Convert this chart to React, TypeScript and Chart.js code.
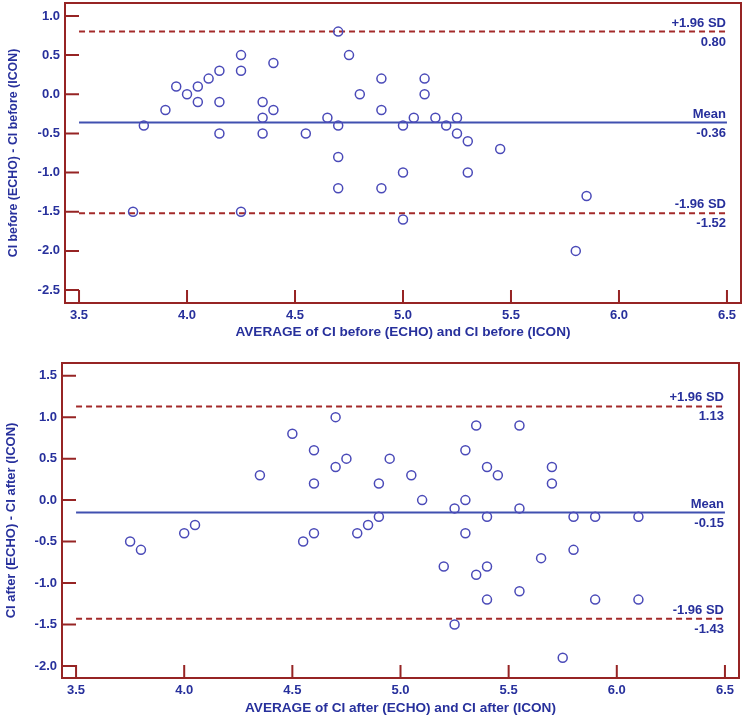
import React, { useEffect, useRef } from 'react';
import { Chart, registerables } from 'chart.js';

Chart.register(...registerables);

// ---------- data ----------
const xTickValues = [3.5, 4.0, 4.5, 5.0, 5.5, 6.0, 6.5];
const topYTickValues = [1.0, 0.5, 0.0, -0.5, -1.0, -1.5, -2.0, -2.5];
const bottomYTickValues = [1.5, 1.0, 0.5, 0.0, -0.5, -1.0, -1.5, -2.0];

const limitNames = ['+1.96 SD', 'Mean', '-1.96 SD'];
const topLimits = [0.8, -0.36, -1.52];
const bottomLimits = [1.13, -0.15, -1.43];

const topAvg = [
  4.7, 4.75, 4.25, 4.4, 4.15, 4.25, 4.1, 3.95, 4.05, 4.0, 4.8, 4.05, 4.15, 4.35, 3.9,
  4.4, 4.35, 4.65, 3.8, 4.7, 4.15, 4.35, 4.55, 4.7, 4.7, 3.75, 4.25, 4.9, 5.1, 5.1,
  4.9, 5.05, 5.15, 5.25, 5.0, 5.2, 5.25, 5.3, 5.45, 5.0, 5.3, 4.9, 5.85, 5.0, 5.8,
];
const topDiff = [
  0.8, 0.5, 0.5, 0.4, 0.3, 0.3, 0.2, 0.1, 0.1, 0.0, 0.0, -0.1, -0.1, -0.1, -0.2,
  -0.2, -0.3, -0.3, -0.4, -0.4, -0.5, -0.5, -0.5, -0.8, -1.2, -1.5, -1.5, 0.2, 0.2, 0.0,
  -0.2, -0.3, -0.3, -0.3, -0.4, -0.4, -0.5, -0.6, -0.7, -1.0, -1.0, -1.2, -1.3, -1.6, -2.0,
];

const bottomAvg = [
  4.7, 4.5, 4.6, 4.75, 4.7, 4.35, 4.6, 4.05, 4.0, 4.6, 4.8, 4.85, 3.75, 4.55, 3.8,
  4.9, 4.9, 4.95, 5.05, 5.1, 5.2, 5.25, 5.25, 5.3, 5.3, 5.3, 5.35, 5.35, 5.4, 5.45,
  5.4, 5.4, 5.4, 5.55, 5.55, 5.55, 5.65, 5.7, 5.7, 5.75, 5.8, 5.8, 5.9, 5.9, 6.1, 6.1,
];
const bottomDiff = [
  1.0, 0.8, 0.6, 0.5, 0.4, 0.3, 0.2, -0.3, -0.4, -0.4, -0.4, -0.3, -0.5, -0.5, -0.6,
  0.2, -0.2, 0.5, 0.3, 0.0, -0.8, -0.1, -1.5, 0.6, 0.0, -0.4, 0.9, -0.9, 0.4, 0.3,
  -0.2, -0.8, -1.2, 0.9, -0.1, -1.1, -0.7, 0.4, 0.2, -1.9, -0.2, -0.6, -0.2, -1.2, -0.2, -1.2,
];

// ---------- styles ----------
const NAVY = '#27309c';
const FRAME = '#962424';
const DASH = '#a32a2a';
const MEAN = '#4050b0';
const POINT = '#4a4ab8';
const FONT = '"Liberation Sans", Arial, sans-serif';

const framePlugin = {
  id: 'baFrame',
  afterDatasetsDraw(chart: any, _args: any, opts: any) {
    const { ctx, chartArea } = chart;
    const xs = chart.scales.x;
    const ys = chart.scales.y;
    const limits: number[] = opts.limits || [];
    ctx.save();
    // limit labels
    ctx.fillStyle = NAVY;
    ctx.font = `bold 13px ${FONT}`;
    ctx.textAlign = 'right';
    const xr = xs.getPixelForValue(xTickValues[xTickValues.length - 1]) - 1;
    limits.forEach((v, i) => {
      const py = ys.getPixelForValue(v);
      ctx.textBaseline = 'bottom';
      ctx.fillText(limitNames[i], xr, py - 2);
      ctx.textBaseline = 'top';
      ctx.fillText(v.toFixed(2), xr, py + 4);
    });
    // frame
    ctx.strokeStyle = FRAME;
    ctx.lineWidth = 2;
    ctx.strokeRect(chartArea.left, chartArea.top, chartArea.right - chartArea.left, chartArea.bottom - chartArea.top);
    // inward ticks
    ctx.beginPath();
    xs.ticks.forEach((t: any) => {
      const px = xs.getPixelForValue(t.value);
      ctx.moveTo(px, chartArea.bottom);
      ctx.lineTo(px, chartArea.bottom - 13);
    });
    ys.ticks.forEach((t: any) => {
      const py = ys.getPixelForValue(t.value);
      ctx.moveTo(chartArea.left, py);
      ctx.lineTo(chartArea.left + 14, py);
    });
    ctx.stroke();
    ctx.restore();
  },
};

type Props = {
  avg: number[];
  diff: number[];
  limits: number[];
  yTicks: number[];
  yMin: number;
  yMax: number;
  xTitle: string;
  yTitle: string;
  width: number;
  height: number;
  yAxisWidth: number;
  xAxisHeight: number;
  padTop: number;
  padRight: number;
  xLabelPad: number;
  xTitlePad: number;
  yTitlePad: number;
  yTitleSize: number;
};

function BlandAltman(p: Props) {
  const ref = useRef<HTMLCanvasElement>(null);
  useEffect(() => {
    if (!ref.current) return;
    const x0 = xTickValues[0];
    const x1 = xTickValues[xTickValues.length - 1];
    const lineSets = p.limits.map((v, i) => ({
      type: 'scatter' as const,
      data: [
        { x: x0, y: v },
        { x: x1, y: v },
      ],
      showLine: true,
      pointRadius: 0,
      borderColor: i === 1 ? MEAN : DASH,
      borderWidth: 2,
      borderDash: i === 1 ? [] : [6, 4],
      order: 2,
    }));
    const chart = new Chart(ref.current, {
      type: 'scatter',
      data: {
        datasets: [
          {
            data: p.avg.map((a, i) => ({ x: a, y: p.diff[i] })),
            pointStyle: 'circle',
            pointRadius: 4.5,
            borderWidth: 1.5,
            borderColor: POINT,
            backgroundColor: 'rgba(0,0,0,0)',
            order: 1,
          },
          ...lineSets,
        ] as any,
      },
      plugins: [framePlugin as any],
      options: {
        animation: false,
        responsive: false,
        devicePixelRatio: 1,
        layout: {
          autoPadding: false,
          padding: { top: p.padTop, right: p.padRight, left: 0, bottom: 0 },
        },
        plugins: {
          legend: { display: false },
          tooltip: { enabled: false },
          baFrame: { limits: p.limits },
        } as any,
        scales: {
          x: {
            type: 'linear',
            min: 3.435,
            max: 6.565,
            afterBuildTicks: (s: any) => {
              s.ticks = xTickValues.map((v) => ({ value: v }));
            },
            afterFit: (s: any) => {
              s.height = p.xAxisHeight;
              s.paddingLeft = 0;
              s.paddingRight = 0;
            },
            grid: { display: false, drawTicks: false },
            border: { display: false },
            ticks: {
              color: NAVY,
              font: { family: FONT, size: 13, weight: 'bold' },
              padding: p.xLabelPad,
              maxRotation: 0,
              callback: (v: any) => Number(v).toFixed(1),
            },
            title: {
              display: true,
              text: p.xTitle,
              color: NAVY,
              font: { family: FONT, size: 13.6, weight: 'bold' },
              padding: { top: 0, bottom: p.xTitlePad },
            },
          },
          y: {
            type: 'linear',
            min: p.yMin,
            max: p.yMax,
            afterBuildTicks: (s: any) => {
              s.ticks = p.yTicks.map((v) => ({ value: v }));
            },
            afterFit: (s: any) => {
              s.width = p.yAxisWidth;
              s.paddingTop = 0;
              s.paddingBottom = 0;
            },
            grid: { display: false, drawTicks: false },
            border: { display: false },
            ticks: {
              color: NAVY,
              font: { family: FONT, size: 13, weight: 'bold' },
              padding: 5,
              callback: (v: any) => Number(v).toFixed(1),
            },
            title: {
              display: true,
              text: p.yTitle,
              color: NAVY,
              font: { family: FONT, size: p.yTitleSize, weight: 'bold' },
              padding: { top: p.yTitlePad, bottom: 0 },
            },
          },
        },
      } as any,
    });
    return () => chart.destroy();
  }, []);
  return (
    <canvas
      ref={ref}
      width={p.width}
      height={p.height}
      style={{ display: 'block', width: p.width, height: p.height }}
    />
  );
}

export default function App() {
  return (
    <div style={{ position: 'absolute', left: 0, top: 0, width: 744, height: 717, background: '#fff' }}>
      <div style={{ position: 'absolute', left: 0, top: 0 }}>
        <BlandAltman
          avg={topAvg}
          diff={topDiff}
          limits={topLimits}
          yTicks={topYTickValues}
          yMin={-2.665}
          yMax={1.165}
          xTitle="AVERAGE of CI before (ECHO) and CI before (ICON)"
          yTitle="CI before (ECHO) - CI before (ICON)"
          width={744}
          height={350}
          yAxisWidth={65}
          xAxisHeight={47}
          padTop={3}
          padRight={3}
          xLabelPad={5}
          xTitlePad={10}
          yTitlePad={6}
          yTitleSize={12.4}
        />
      </div>
      <div style={{ position: 'absolute', left: 0, top: 355 }}>
        <BlandAltman
          avg={bottomAvg}
          diff={bottomDiff}
          limits={bottomLimits}
          yTicks={bottomYTickValues}
          yMin={-2.145}
          yMax={1.653}
          xTitle="AVERAGE of CI after (ECHO) and CI after (ICON)"
          yTitle="CI after (ECHO) - CI after (ICON)"
          width={744}
          height={362}
          yAxisWidth={62}
          xAxisHeight={39}
          padTop={8}
          padRight={5}
          xLabelPad={5}
          xTitlePad={1}
          yTitlePad={4}
          yTitleSize={13}
        />
      </div>
    </div>
  );
}
